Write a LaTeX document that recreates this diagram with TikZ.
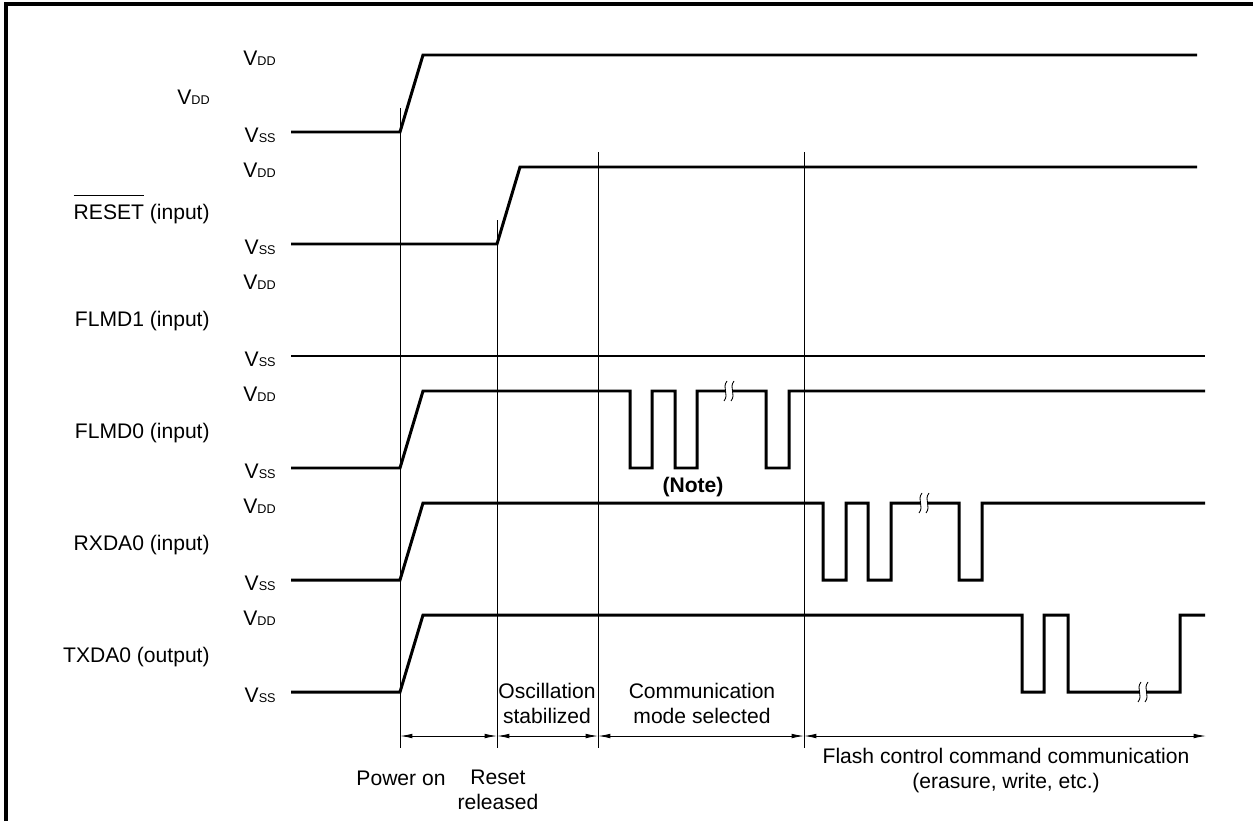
\documentclass[tikz,border=0pt]{standalone}
\usepackage{fontspec}
\setmainfont{Liberation Sans}
\usetikzlibrary{arrows.meta}
\newcommand{\vlev}[1]{V{\fontsize{7.2}{8}\selectfont #1}}

\begin{document}
\begin{tikzpicture}[x=0.02cm, y=-0.02cm,
  font=\fontsize{12}{14.2}\selectfont,
  sig/.style={line width=1.7pt, line join=miter},
  guide/.style={line width=0.55pt},
  lvl/.style={anchor=east, inner sep=0pt},
  signame/.style={anchor=east, inner sep=0pt},
  note/.style={align=center, inner sep=0pt},
  span/.style={{Latex[length=7pt,width=2.6pt]}-{Latex[length=7pt,width=2.6pt]}, line width=0.5pt},
  brk/.pic={
    \fill[white] (-3.5,-6) rectangle (3.5,6);
    \foreach \dx in {-3.5,3.5}
      \draw[line width=0.5pt] (\dx+1.5,-10) .. controls (\dx-4,-3) and (\dx+4,3) .. (\dx-1.5,10);
  }
]
  \useasboundingbox (0,0) rectangle (1253,821);
  \draw[line width=2.3pt] (6,821) -- (6,4) -- (1253,4);

  \foreach \i in {0,...,5} {
    \node[lvl] (hi\i) at (276,58+112*\i) {\vlev{DD}};
    \node[lvl] (lo\i) at (276,135+112*\i) {\vlev{SS}};
  }
  \foreach \txt [count=\i from 0] in {\vlev{DD}, {$\overline{\mbox{RESET}\rule{0pt}{1.05em}}$ (input)}, FLMD1 (input), FLMD0 (input), RXDA0 (input), TXDA0 (output)}
    \node[signame] (sig\i) at (210,97+112*\i) {\txt};

  \draw[sig] (291,132) -- (400,132) -- (423,55) -- (1197,55);
  \draw[sig] (291,244) -- (497,244) -- (520,167) -- (1197,167);
  \draw[sig] (291,356) -- (1205,356);
  \draw[sig] (291,468) -- (400,468) -- (423,391) -- (630,391) -- ++(0,77) -- ++(22,0) -- ++(0,-77)
    -- (675,391) -- ++(0,77) -- ++(22,0) -- ++(0,-77) -- (766,391) -- ++(0,77) -- ++(23,0) -- ++(0,-77) -- (1205,391);
  \draw[sig] (291,580) -- (400,580) -- (423,503) -- (823,503) -- ++(0,77) -- ++(23,0) -- ++(0,-77)
    -- (868,503) -- ++(0,77) -- ++(23,0) -- ++(0,-77) -- (959,503) -- ++(0,77) -- ++(23,0) -- ++(0,-77) -- (1205,503);
  \draw[sig] (291,692) -- (400,692) -- (423,615) -- (1022,615) -- ++(0,77) -- ++(22,0) -- ++(0,-77)
    -- (1068,615) -- (1068,692) -- (1180,692) -- (1180,615) -- (1205,615);
  \pic at (729,391) {brk};
  \pic at (924,503) {brk};
  \pic at (1143,692) {brk};

  \coordinate (t0) at (400,736);
  \coordinate (t1) at (497,736);
  \coordinate (t2) at (598,736);
  \coordinate (t3) at (804,736);
  \coordinate (t4) at (1206,736);
  \draw[guide] (400,108) -- (400,748);
  \draw[guide] (497,220) -- (497,748);
  \draw[guide] (598,152) -- (598,748);
  \draw[guide] (804,152) -- (804,748);
  \draw[span] (t0) -- (t1);
  \draw[span] (t1) -- (t2);
  \draw[span] (t2) -- (t3);
  \draw[span] (t3) -- (t4);

  \node[note, font=\fontsize{12}{14.2}\selectfont\bfseries] (note) at (693,487) {(Note)};
  \node[note] (pwr) at (401,778) {Power on};
  \node[note] (rst) at (498,790) {Reset\\released};
  \node[note] (osc) at (547,703) {Oscillation\\stabilized};
  \node[note] (mode) at (702,703) {Communication\\mode selected};
  \node[note] (flash) at (1006,771) {Flash control command communication\\(erasure, write, etc.)};
\end{tikzpicture}
\end{document}
